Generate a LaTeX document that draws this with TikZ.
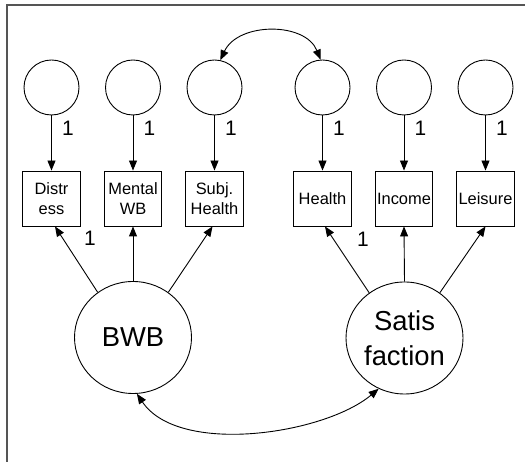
\documentclass[tikz,border=0pt]{standalone}
\usepackage{fontspec}
\setmainfont{Liberation Sans}
\usetikzlibrary{arrows.meta,shapes.geometric,calc}
\definecolor{framegray}{HTML}{555555}
\tikzset{
  errc/.style={draw, circle, line width=0.9bp, minimum size=55bp, inner sep=0pt},
  obsbox/.style={draw, rectangle, line width=0.9bp, minimum width=57.5bp, minimum height=55bp, inner sep=0pt, align=center, font=\fontsize{16.5}{20}\selectfont},
  latent/.style={draw, ellipse, line width=0.9bp, minimum width=117bp, minimum height=112bp, inner sep=0pt, align=center, font=\fontsize{27.5}{35}\selectfont},
  arr/.style={line width=0.9bp, -{Triangle[length=10bp,width=8bp]}},
  darr/.style={line width=0.9bp, {Triangle[length=10bp,width=8bp]}-{Triangle[length=10bp,width=8bp]}},
  onelab/.style={inner sep=0pt, font=\fontsize{21}{24}\selectfont},
}
\begin{document}
\begin{tikzpicture}[x=1bp,y=1bp]
\useasboundingbox (0,0) rectangle (525,462);
\draw[framegray, line width=2bp] (6.5,0) -- (6.5,457) -- (525,457);

% error terms
\node[errc] (e1) at (51.5,374.5) {};
\node[errc] (e2) at (133,374.5) {};
\node[errc] (e3) at (214.5,374.5) {};
\node[errc] (e4) at (322.5,374.5) {};
\node[errc] (e5) at (404,374.5) {};
\node[errc] (e6) at (485.5,374.5) {};

% observed
\node[obsbox] (distress) at (51.5,263.5) {Distr\\ess};
\node[obsbox] (mental) at (133,263.5) {Mental\\WB};
\node[obsbox] (subj) at (214.5,263.5) {Subj.\\Health};
\node[obsbox] (health) at (322.5,263.5) {Health};
\node[obsbox] (income) at (404,263.5) {Income};
\node[obsbox] (leisure) at (485.5,263.5) {Leisure};

% latent
\node[latent] (bwb) at (133,124.5) {BWB};
\node[latent] (sat) at (404.5,124) {Satis\\faction};

% error arrows
\foreach \e/\b in {e1/distress,e2/mental,e3/subj,e4/health,e5/income,e6/leisure}{
  \draw[arr] (\e.south) -- (\b.north);
  \node[onelab] at ($(\e.south)+(16.5,-12.5)$) {1};
}

% loadings
\draw[arr] (bwb.128) -- ($(distress.south)+(3.5,0)$);
\draw[arr] (bwb.north) -- (mental.south);
\draw[arr] (bwb.52) -- ($(subj.south)+(-2,0)$);
\draw[arr] (sat.128) -- ($(health.south)+(2.5,0)$);
\draw[arr] (sat.north) -- (income.south);
\draw[arr] (sat.52) -- (leisure.south);

\node[onelab] (l1) at (90,224) {1};
\node[onelab] (l2) at (363,223) {1};

% covariances
\draw[darr] (e3.78) .. controls +(65:42) and +(112:41) .. (e4.94);
\draw[darr] (bwb.-86) .. controls +(-56:75) and +(220:71) .. (sat.-117);
\end{tikzpicture}
\end{document}
